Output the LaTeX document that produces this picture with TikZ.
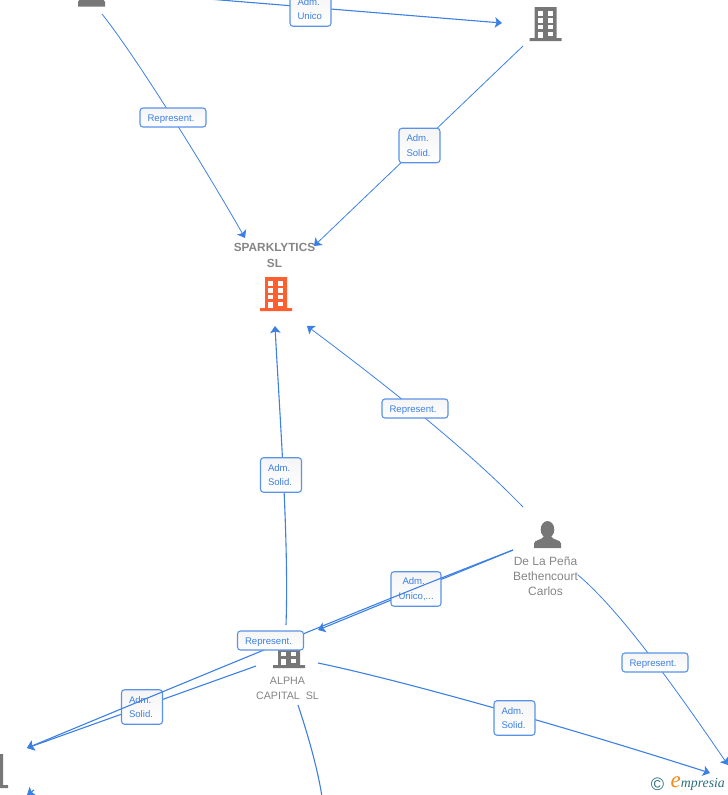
\documentclass[tikz,border=0pt]{standalone}
\usepackage{fontspec}
\setmainfont{Liberation Sans}
\newfontfamily\logofont{Liberation Serif}
\usetikzlibrary{arrows.meta}
\definecolor{linkblue}{HTML}{3C80E4}
\definecolor{iconorange}{HTML}{FF5F2E}
\definecolor{icongray}{HTML}{777777}
\definecolor{namegray}{HTML}{858585}
\definecolor{logoteal}{HTML}{2B6E7C}
\definecolor{logoorange}{HTML}{F08A1D}
\tikzset{
  tower/.pic={
    \fill[pic actions] (-11,-17) rectangle (11,15) (-16,14) rectangle (16,17);
    \foreach \wy/\wh in {-13/4.5,-6/4.5,1/4} {
      \fill[white] (-8,\wy) rectangle +(5,\wh);
      \fill[white] (2,\wy) rectangle +(5,\wh);
    }
    \fill[white] (-8,8) rectangle (-3,14);
    \fill[white] (2,8) rectangle (7,12);
  },
  person/.pic={
    \fill[pic actions] (0,-5) ellipse [x radius=6.8, y radius=8.5];
    \fill[pic actions] (-13.5,13.5) -- (-13.5,9) .. controls (-13.5,5) and (-5,6) .. (-3,1)
      -- (3,1) .. controls (5,6) and (13.5,5) .. (13.5,9) -- (13.5,13.5) -- cycle;
  }
}
\begin{document}
\begin{tikzpicture}[x=1pt,y=-1pt,
    link/.style={draw=linkblue, line width=1.1pt, -{Stealth[length=7pt,width=10.5pt,inset=1.5pt]}},
    thinlink/.style={link, line width=.8pt},
    tag/.style={draw=linkblue!85, rounded corners=3pt, line width=1.1pt, top color=black!4, bottom color=white,
        text=linkblue, font=\fontsize{9.6}{14.5}\selectfont, align=left, inner ysep=0pt, inner xsep=7.5pt},
    twoline/.style={tag, text width=26pt, minimum height=34.5pt},
    oneline/.style={tag, text width=51pt, minimum height=19pt, text height=7.5pt, text depth=0pt},
    entity/.style={text=namegray, align=center, inner sep=0pt, font=\fontsize{12}{15}\selectfont}]

\useasboundingbox (0,0) rectangle (728,795);
\clip (0,0) rectangle (728,795);

\coordinate (ownerA) at (208,-1);
\coordinate (firmA) at (502,23);
\coordinate (ownerB) at (102,14);
\coordinate (sparkNW) at (245,238);
\coordinate (firmB) at (523,46);
\coordinate (sparkNE) at (314,246);
\coordinate (alphaN) at (286,625);
\coordinate (sparkS) at (275,326);
\coordinate (penaN) at (523,507);
\coordinate (sparkSE) at (307,326);
\coordinate (penaW) at (513,550);
\coordinate (alphaNE) at (318,630);
\coordinate (alphaW) at (256,666);
\coordinate (farleft) at (27,748);
\coordinate (alphaE) at (318,663);
\coordinate (farright) at (710,773);
\coordinate (alphaS) at (298,705);
\coordinate (offpage) at (322,797);
\coordinate (penaE) at (578,575);
\coordinate (corner) at (728,765);
\coordinate (lowleftA) at (34,790);
\coordinate (lowleftB) at (27,795);

\pic[icongray] at (91.5,-7) {person};
\pic[icongray] at (545.5,24) {tower};
\pic[iconorange] at (276,294) {tower};
\pic[icongray] at (289,651) {tower};
\pic[icongray] at (547.5,534.5) {person};
\pic[icongray] at (-8,771) {tower};

\node[entity, font=\fontsize{11.8}{16}\bfseries\selectfont] (spark) at (274.5,255.5) {SPARKLYTICS\\SL};
\node[entity, font=\fontsize{10.7}{15}\selectfont] (alpha) at (287.5,688) {ALPHA\\CAPITAL~~SL};
\node[entity] (pena) at (545.5,576.5) {De La Peña\\Bethencourt\\Carlos};

\draw[link] (ownerA) -- (firmA);
\draw[thinlink] (firmB) -- (sparkNE);
\draw[link] (alphaN) .. controls (289,540) and (280,420) .. (sparkS);
\draw[link] (penaW) -- (alphaNE);
\draw[link] (alphaW) -- (farleft);
\draw[link] (alphaE) .. controls (400,680) and (560,725) .. (farright);
\draw[link, -] (alphaS) .. controls (308,735) and (318,770) .. (offpage);
\draw[link] (lowleftA) -- (lowleftB);

\node[twoline] (admA) at (310.5,9) {Adm.\\Unico};
\node[twoline] (admB) at (419.5,145.5) {Adm.\\Solid.};
\node[twoline] (admC) at (281,475) {Adm.\\Solid.};
\node[twoline, text width=35pt] (admD) at (416,589) {\hspace*{4pt}Adm.\\Unico,...};
\node[twoline] (admE) at (142,707) {Adm.\\Solid.};
\node[twoline] (admF) at (514.5,718) {Adm.\\Solid.};

\draw[thinlink] (ownerB) .. controls (137,58) and (205,168) .. (sparkNW);
\draw[thinlink] (penaN) .. controls (470,452) and (390,388) .. (sparkSE);
\draw[link] (penaW) .. controls (430,582) and (340,618) .. (farleft);
\draw[thinlink] (penaE) .. controls (622,612) and (680,695) .. (corner);

\node[oneline] (repA) at (173,117.5) {Represent.};
\node[oneline] (repB) at (415,408.5) {Represent.};
\node[oneline] (repC) at (270.5,640.5) {Represent.};
\node[oneline] (repD) at (655,662.5) {Represent.};

\node[text=logoteal, inner sep=0pt, font=\fontsize{18}{18}\selectfont] (copysign) at (657.5,784) {©};
\node[text=logoteal, inner sep=0pt, anchor=west, font=\logofont\itshape\fontsize{13.8}{13.8}\selectfont] (logo) at (670.5,784)
    {\textcolor{logoorange}{\fontsize{23}{23}\selectfont e}mpresia};

\end{tikzpicture}
\end{document}
